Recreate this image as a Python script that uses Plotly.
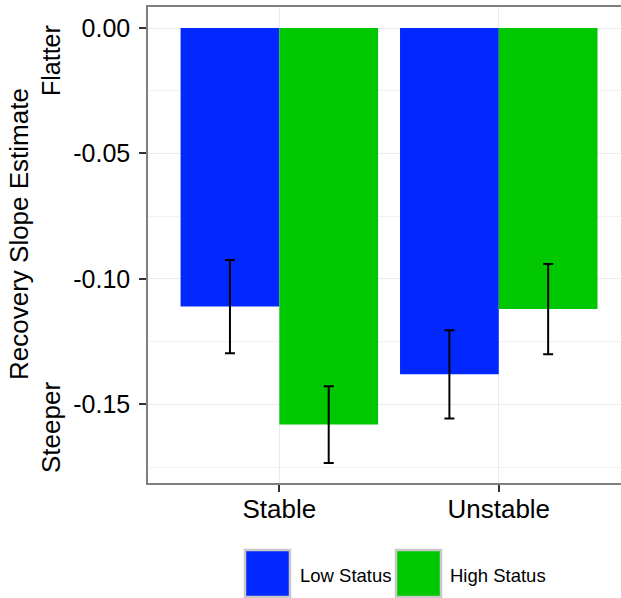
import plotly.graph_objects as go

groups = ["Stable", "Unstable"]
low_status = [-0.111, -0.138]
high_status = [-0.158, -0.112]
low_err = [0.0186, 0.0176]
high_err = [0.0153, 0.0180]
series_names = ["Low Status", "High Status"]
colors = ["#0228ff", "#00c800"]
y_ticks = [0.0, -0.05, -0.10, -0.15]
y_ticklabels = ["0.00", "-0.05", "-0.10", "-0.15"]

W, H = 621, 598
L, R, T, B = 148, 0, 7, 115
pw = W - L - R
ph = H - T - B

def px(x):
    return (x - L) / pw

def py(y):
    return (H - B - y) / ph

FONT = "Liberation Sans, Arial, sans-serif"

fig = go.Figure()
for name, vals, errs, col in zip(series_names, [low_status, high_status], [low_err, high_err], colors):
    fig.add_trace(go.Bar(
        x=groups, y=vals, name=name, marker=dict(color=col, line=dict(width=0)),
        error_y=dict(type="data", array=errs, visible=True, color="black", thickness=2, width=5),
        showlegend=False,
    ))

fig.update_layout(
    width=W, height=H,
    margin=dict(l=L, r=R, t=T, b=B, pad=0),
    paper_bgcolor="white", plot_bgcolor="white",
    barmode="group", bargap=0.1, bargroupgap=0,
    font=dict(family=FONT, color="black"),
)
fig.update_xaxes(
    type="category", range=[-0.5985, 1.557],
    showgrid=True, gridcolor="#ebebeb", gridwidth=1.2,
    showline=True, linecolor="#7f7f7f", linewidth=1.5, mirror=True,
    ticks="outside", ticklen=7, tickcolor="#333333", tickwidth=1.5,
    ticklabelstandoff=-5,
    tickfont=dict(size=26, color="black", family=FONT),
)
fig.update_yaxes(
    range=[-0.1813, 0.00837], zeroline=False,
    tickvals=y_ticks, ticktext=y_ticklabels,
    showgrid=True, gridcolor="#ebebeb", gridwidth=1.2,
    minor=dict(tickvals=[-0.025, -0.075, -0.125, -0.175], showgrid=True, gridcolor="#f2f2f2", gridwidth=0.8, ticks=""),
    showline=True, linecolor="#7f7f7f", linewidth=1.5, mirror=False,
    ticks="outside", ticklen=7, tickcolor="#333333", tickwidth=1.5,
    ticklabelstandoff=4,
    tickfont=dict(size=25, color="black", family=FONT),
)

# y-axis titles
ann = [
    dict(text="Recovery Slope Estimate", x=px(19), y=py(234), size=26),
    dict(text="Flatter", x=px(51), y=py(61), size=25),
    dict(text="Steeper", x=px(51), y=py(428), size=26),
]
for a in ann:
    fig.add_annotation(text=a["text"], x=a["x"], y=a["y"], xref="paper", yref="paper",
                       textangle=-90, showarrow=False, xanchor="center", yanchor="middle",
                       font=dict(size=a["size"], color="black", family=FONT))

# custom legend
legend_boxes = [(245, 290), (396, 441)]
legend_text_x = [298, 448]
for name, col, (x0, x1), tx in zip(series_names, colors, legend_boxes, legend_text_x):
    fig.add_shape(type="rect", xref="paper", yref="paper",
                  x0=px(x0), x1=px(x1), y0=py(550), y1=py(597),
                  fillcolor=col, line=dict(color="#c8c8c8", width=2.5))
    fig.add_annotation(text=name, x=px(tx), y=py(575), xref="paper", yref="paper",
                       showarrow=False, xanchor="left", yanchor="middle",
                       font=dict(size=18.5, color="black", family=FONT))

fig.write_html("out.html", config={"displayModeBar": False},
               post_script="document.body.style.margin='0';document.body.style.overflow='hidden';")
